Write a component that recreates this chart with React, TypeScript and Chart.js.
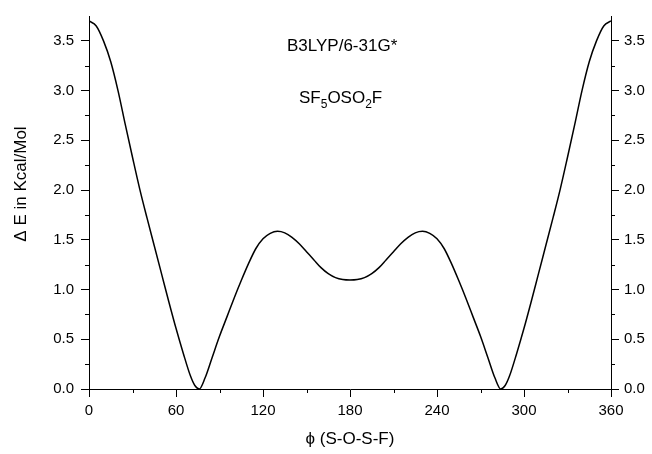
import React, { useEffect, useRef } from "react";
import { Chart, registerables } from "chart.js";

Chart.register(...registerables);

const angles = [
  0, 5, 10, 15, 20, 25, 30, 35, 40, 45, 50, 55, 60, 65, 70, 73, 76, 80, 85, 90,
  95, 100, 105, 110, 115, 120, 125, 130, 135, 140, 145, 150, 155, 160, 165, 170,
  175, 180, 185, 190, 195, 200, 205, 210, 215, 220, 225, 230, 235, 240, 245, 250,
  255, 260, 265, 270, 275, 280, 284, 287, 290, 295, 300, 305, 310, 315, 320, 325,
  330, 335, 340, 345, 350, 355, 360,
];
const energies = [
  3.7, 3.65, 3.5, 3.29, 3.0, 2.66, 2.33, 2.01, 1.72, 1.44, 1.16, 0.88, 0.61, 0.36,
  0.13, 0.035, 0.0, 0.11, 0.32, 0.53, 0.72, 0.91, 1.09, 1.26, 1.41, 1.51, 1.565,
  1.585, 1.57, 1.525, 1.46, 1.38, 1.3, 1.22, 1.16, 1.12, 1.1, 1.095, 1.1, 1.12,
  1.16, 1.22, 1.3, 1.38, 1.46, 1.525, 1.57, 1.585, 1.565, 1.51, 1.41, 1.26, 1.09,
  0.91, 0.72, 0.53, 0.32, 0.11, 0.0, 0.035, 0.13, 0.36, 0.61, 0.88, 1.16, 1.44,
  1.72, 2.01, 2.33, 2.66, 3.0, 3.29, 3.5, 3.65, 3.7,
];
const xMinorTicks = [30, 90, 150, 210, 270, 330];
const yMinorTicks = [0.25, 0.75, 1.25, 1.75, 2.25, 2.75, 3.25];
const methodLabel = "B3LYP/6-31G*";
const moleculeParts = [
  { t: "SF", sub: false },
  { t: "5", sub: true },
  { t: "OSO", sub: false },
  { t: "2", sub: true },
  { t: "F", sub: false },
];
const xTitle = "ϕ (S-O-S-F)";
const yTitle = "Δ E in Kcal/Mol";

const FONT = "'Liberation Sans', Arial, sans-serif";

const decorPlugin = {
  id: "decor",
  afterDraw(chart: any) {
    const ctx = chart.ctx;
    const xs = chart.scales.x;
    const yl = chart.scales.y;
    const yr = chart.scales.y2;
    ctx.save();
    ctx.strokeStyle = "#000";
    ctx.lineWidth = 1;
    ctx.beginPath();
    for (const v of xMinorTicks) {
      const px = Math.round(xs.getPixelForValue(v)) + 0.5;
      ctx.moveTo(px, xs.top);
      ctx.lineTo(px, xs.top + 4);
    }
    for (const v of yMinorTicks) {
      const py = Math.round(yl.getPixelForValue(v)) + 0.5;
      ctx.moveTo(yl.right, py);
      ctx.lineTo(yl.right - 4, py);
      ctx.moveTo(yr.left, py);
      ctx.lineTo(yr.left + 4, py);
    }
    ctx.stroke();

    ctx.fillStyle = "#000";
    ctx.textBaseline = "alphabetic";
    ctx.textAlign = "left";
    ctx.font = `17px ${FONT}`;
    ctx.fillText(methodLabel, 287, 51);
    let x = 299;
    const base = 103;
    for (const p of moleculeParts) {
      ctx.font = p.sub ? `12px ${FONT}` : `17px ${FONT}`;
      ctx.fillText(p.t, x, p.sub ? base + 5 : base);
      x += ctx.measureText(p.t).width;
    }

    // y-axis title
    ctx.save();
    ctx.translate(21, 184);
    ctx.rotate(-Math.PI / 2);
    ctx.textAlign = "center";
    ctx.textBaseline = "middle";
    ctx.font = `17px ${FONT}`;
    ctx.fillText(yTitle, 0, 0);
    ctx.restore();

    ctx.restore();
  },
};

export default function App() {
  const ref = useRef<HTMLCanvasElement | null>(null);
  useEffect(() => {
    if (!ref.current) return;
    const keepHalf = (scale: any) => {
      scale.ticks = scale.ticks.filter(
        (t: any) => Math.abs(t.value * 2 - Math.round(t.value * 2)) < 1e-6
      );
    };
    const yTicksL = {
      stepSize: 0.5,
      color: "#000",
      font: { family: FONT, size: 15 },
      padding: 7,
      callback: (v: any) => Number(v).toFixed(1),
    };
    const yTicksR = { ...yTicksL, padding: 5 };
    const chart = new Chart(ref.current, {
      type: "line",
      data: {
        datasets: [
          {
            data: angles.map((a, i) => ({ x: a, y: energies[i] })),
            borderColor: "#000",
            borderWidth: 1.5,
            pointRadius: 0,
            cubicInterpolationMode: "monotone",
            fill: false,
          },
        ],
      },
      options: {
        responsive: false,
        animation: false,
        devicePixelRatio: 1,
        layout: { padding: { top: 12, left: 0, right: 0, bottom: 0 } },
        plugins: { legend: { display: false }, tooltip: { enabled: false } },
        scales: {
          x: {
            type: "linear",
            min: 0,
            max: 360,
            position: "bottom",
            ticks: {
              stepSize: 60,
              color: "#000",
              font: { family: FONT, size: 15 },
              padding: 5,
              maxRotation: 0,
            },
            grid: { drawOnChartArea: false, drawTicks: true, tickLength: 8, tickColor: "#000" },
            border: { display: true, color: "#000", width: 1 },
            title: {
              display: true,
              text: xTitle,
              color: "#000",
              font: { family: FONT, size: 17 },
              padding: { top: 0, bottom: 4 },
            },
            afterFit: (s: any) => {
              s.height = 65;
            },
          },
          y: {
            type: "linear",
            min: 0,
            max: 3.75,
            position: "left",
            ticks: yTicksL,
            grid: { drawOnChartArea: false, drawTicks: true, tickLength: 8, tickColor: "#000" },
            border: { display: true, color: "#000", width: 1 },
            afterBuildTicks: keepHalf,
            afterFit: (s: any) => {
              s.width = 89;
            },
          },
          y2: {
            type: "linear",
            min: 0,
            max: 3.75,
            position: "right",
            ticks: yTicksR,
            grid: { drawOnChartArea: false, drawTicks: true, tickLength: 8, tickColor: "#000" },
            border: { display: true, color: "#000", width: 1 },
            afterBuildTicks: keepHalf,
            afterFit: (s: any) => {
              s.width = 41;
            },
          },
        },
      } as any,
      plugins: [decorPlugin],
    });
    return () => chart.destroy();
  }, []);
  return (
    <div style={{ position: "absolute", left: 0, top: 0, width: 652, height: 454, background: "#fff" }}>
      <canvas ref={ref} width={652} height={454} style={{ width: 652, height: 454 }} />
    </div>
  );
}
